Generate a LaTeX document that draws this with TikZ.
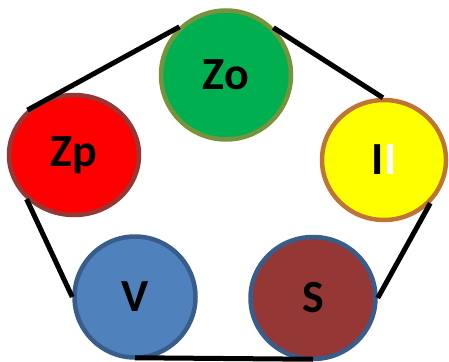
\documentclass[tikz,border=0pt]{standalone}
\usepackage{fontspec}
\setmainfont{Carlito}
\usetikzlibrary{shapes.geometric}
\definecolor{zofill}{HTML}{00B050}
\definecolor{zoline}{HTML}{77933C}
\definecolor{ifill}{HTML}{FFFF00}
\definecolor{iline}{HTML}{BE7434}
\definecolor{zpfill}{HTML}{FF0000}
\definecolor{zpline}{HTML}{953735}
\definecolor{vfill}{HTML}{4F81BD}
\definecolor{vline}{HTML}{385D8A}
\definecolor{sfill}{HTML}{953735}
\tikzset{
  blob/.style={ellipse, inner sep=0pt, line width=4.5pt, font=\fontsize{46}{46}\selectfont\bfseries, text=black},
  link/.style={line width=5pt, black}
}
\begin{document}
\begin{tikzpicture}[x=1pt,y=-1pt]
\useasboundingbox (0,0) rectangle (449,361);
\node[blob, draw=zoline, fill=zofill, minimum width=130pt, minimum height=129pt] (zo) at (226,75) {Zo};
\node[blob, draw=iline, fill=ifill, minimum width=124pt, minimum height=120pt] (ii) at (384,160) {I\textcolor{white}{I}};
\node[blob, draw=zpline, fill=zpfill, minimum width=130pt, minimum height=120pt] (zp) at (74,155) {Zp};
\node[blob, draw=vline, fill=vfill, minimum width=121pt, minimum height=121pt] (v) at (135,297) {V};
\node[blob, draw=vline, fill=sfill, minimum width=125pt, minimum height=122pt] (s) at (313,298) {S};
\draw[link] (zo.134) -- (zp.136);
\draw[link] (zo.45) -- (ii.91);
\draw[link] (ii.-43) -- (s.0);
\draw[link] (zp.223) -- (v.180);
\draw[link] ([yshift=2pt]v.270) -- ([yshift=2pt]s.270);
\end{tikzpicture}
\end{document}
